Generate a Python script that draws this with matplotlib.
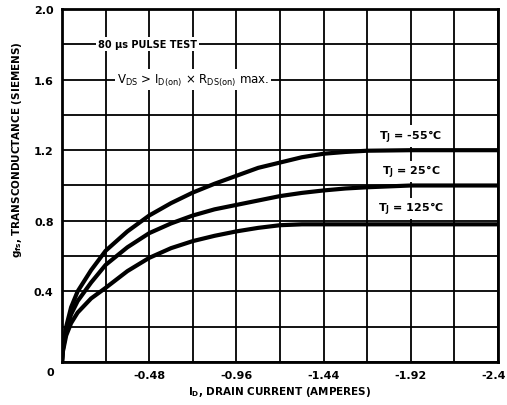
import matplotlib.pyplot as plt
import matplotlib.transforms as mtransforms
import numpy as np

plt.rcParams['font.family'] = ['DejaVu Sans']
plt.rcParams['mathtext.default'] = 'regular'

# drain current (A), plotted on a reversed axis 0 .. -2.4
current = [0, -0.005, -0.023, -0.05, -0.086, -0.16, -0.24, -0.36, -0.48, -0.60,
           -0.72, -0.84, -0.96, -1.08, -1.20, -1.32, -1.44, -1.56, -1.68,
           -1.92, -2.40]

# transconductance (S) per junction temperature
gfs_m55 = [0, 0.08, 0.20, 0.31, 0.40, 0.52, 0.63, 0.74, 0.83, 0.90,
           0.96, 1.01, 1.055, 1.10, 1.13, 1.16, 1.18, 1.19, 1.197,
           1.2, 1.2]
gfs_25 = [0, 0.07, 0.18, 0.27, 0.345, 0.45, 0.55, 0.65, 0.73, 0.785,
          0.83, 0.865, 0.89, 0.915, 0.94, 0.958, 0.972, 0.983, 0.99,
          1.0, 1.0]
gfs_125 = [0, 0.06, 0.15, 0.22, 0.28, 0.36, 0.42, 0.515, 0.59, 0.645,
           0.685, 0.715, 0.74, 0.76, 0.775, 0.78, 0.78, 0.78, 0.78,
           0.78, 0.78]

xticks = [-0.48, -0.96, -1.44, -1.92, -2.4]
xtick_labels = ["-0.48", "-0.96", "-1.44", "-1.92", "-2.4"]
yticks = [0.4, 0.8, 1.2, 1.6, 2.0]
ytick_labels = ["0.4", "0.8", "1.2", "1.6", "2.0"]

fig = plt.figure(figsize=(5.07, 4.06), dpi=100)
ax = fig.add_axes([0.1223, 0.1059, 0.86, 0.8695])

ax.set_xlim(0, -2.4)
ax.set_ylim(0, 2.0)

ax.set_xticks(xticks)
ax.set_xticklabels(xtick_labels, fontsize=8, fontweight='bold')
ax.set_yticks(yticks)
ax.set_yticklabels(ytick_labels, fontsize=8, fontweight='bold')
ax.set_xticks(np.arange(0, -2.41, -0.24), minor=True)
ax.set_yticks(np.arange(0, 2.01, 0.2), minor=True)
ax.grid(True, which='both', color='black', lw=1.3)
ax.set_axisbelow(True)
ax.tick_params(which='both', length=0, pad=6)

# nudge the last x label so it stays inside the figure
last = ax.get_xticklabels()[-1]
last.set_transform(last.get_transform() +
                   mtransforms.ScaledTranslation(-4 / 100, 0, fig.dpi_scale_trans))

for s in ax.spines.values():
    s.set_linewidth(2)

for g in (gfs_m55, gfs_25, gfs_125):
    ax.plot(current, g, color='black', lw=3, solid_capstyle='round',
            solid_joinstyle='round', zorder=3)

box = dict(facecolor='white', edgecolor='none', pad=1.5)
ax.text(-1.92, 1.28, "T$_J$ = -55°C", ha='center', va='center',
        fontsize=8, fontweight='bold', bbox=box, zorder=4)
ax.text(-1.92, 1.08, "T$_J$ = 25°C", ha='center', va='center',
        fontsize=8, fontweight='bold', bbox=box, zorder=4)
ax.text(-1.92, 0.87, "T$_J$ = 125°C", ha='center', va='center',
        fontsize=8, fontweight='bold', bbox=box, zorder=4)

ax.text(-0.47, 1.8, "80 μs PULSE TEST", ha='center', va='center',
        fontsize=7, fontweight='bold', bbox=box, zorder=4)
ax.text(-0.72, 1.6, "V$_{DS}$ > I$_{D(on)}$ × R$_{DS(on)}$ max.", ha='center',
        va='center', fontsize=8.5, bbox=box, zorder=4)

fig.text(50 / 507, 1 - 373 / 406, "0", ha='center', va='center',
         fontsize=8, fontweight='bold')

fig.text(280 / 507, 1 - 392 / 406, "I$_D$, DRAIN CURRENT (AMPERES)",
         ha='center', va='center', fontsize=7.5, fontweight='bold')
fig.text(17 / 507, 1 - 150 / 406, "g$_{fs}$, TRANSCONDUCTANCE (SIEMENS)",
         ha='center', va='center', rotation=90, fontsize=7.5, fontweight='bold')

fig.savefig("out.png", dpi=100)
